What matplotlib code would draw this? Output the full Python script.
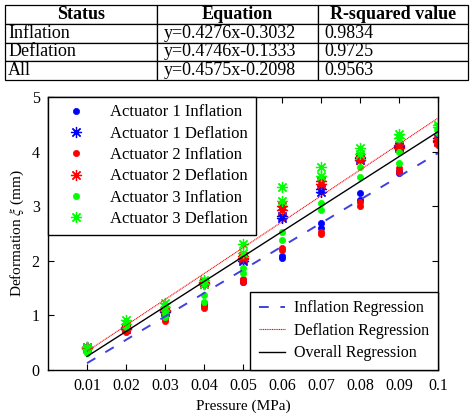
import numpy as np
import matplotlib
matplotlib.use("Agg")
import matplotlib.pyplot as plt

plt.rcParams['font.family'] = ['Liberation Serif', 'DejaVu Serif']
plt.rcParams['mathtext.fontset'] = 'stix'

# pressure steps (MPa)
pressure = [0.01, 0.02, 0.03, 0.04, 0.05, 0.06, 0.07, 0.08, 0.09, 0.1]

# deformation (mm), two trials per series
a1_inf = [[0.36, 0.72, 0.97, 1.19, 1.61, 2.05, 2.60, 3.11, 3.60, 4.17],
          [0.38, 0.74, 1.00, 1.22, 1.65, 2.08, 2.69, 3.24, 3.65, 4.22]]
a1_def = [[0.40, 0.75, 1.06, 1.58, 2.00, 2.78, 3.26, 3.85, 4.08, 4.20],
          [0.42, 0.77, 1.08, 1.60, 2.04, 2.82, 3.32, 3.88, 4.10, 4.24]]
a2_inf = [[0.35, 0.70, 0.89, 1.13, 1.62, 2.20, 2.50, 3.00, 3.63, 4.12],
          [0.38, 0.73, 0.93, 1.17, 1.66, 2.23, 2.53, 3.08, 3.70, 4.16]]
a2_def = [[0.40, 0.76, 1.08, 1.58, 2.05, 2.93, 3.40, 3.84, 4.06, 4.18],
          [0.43, 0.79, 1.10, 1.61, 2.08, 3.00, 3.46, 3.90, 4.12, 4.22]]
a3_inf = [[0.32, 0.78, 0.97, 1.25, 1.78, 2.38, 2.93, 3.53, 3.80, 4.34],
          [0.36, 0.82, 1.05, 1.37, 1.87, 2.53, 3.06, 3.72, 4.00, 4.38]]
a3_def = [[0.38, 0.85, 1.15, 1.58, 2.15, 3.10, 3.55, 3.95, 4.25, 4.45],
          [0.42, 0.92, 1.22, 1.65, 2.30, 3.35, 3.72, 4.06, 4.32, 4.48]]

# regression coefficients (x in units of 0.01 MPa)
fits = {"Inflation": (0.4276, -0.3032),
        "Deflation": (0.4746, -0.1333),
        "All": (0.4575, -0.2098)}
r_squared = {"Inflation": "0.9834", "Deflation": "0.9725", "All": "0.9563"}

fig = plt.figure(figsize=(4.74, 4.2), dpi=100)

# ---- table at the top ----
tax = fig.add_axes([5/474, 1 - 80/420, 463/474, 75/420])
tax.axis('off')
cells = [["Status", "Equation", "R-squared value"]]
for k in ["Inflation", "Deflation", "All"]:
    a, b = fits[k]
    cells.append([k, "y=%.4fx-%.4f" % (a, -b), r_squared[k]])
tbl = tax.table(cellText=cells, bbox=[0, 0, 1, 1], colWidths=[152, 161, 150], cellLoc='left')
tbl.auto_set_font_size(False)
for (r, c), cell in tbl.get_celld().items():
    cell.set_linewidth(0.9)
    cell.set_edgecolor('black')
    cell.set_fontsize(13)
    if r == 0:
        cell.get_text().set_fontweight('bold')
        cell.get_text().set_ha('center')
        cell._loc = 'center'
    else:
        cell.PAD = 0.02 if c == 0 else 0.04

# ---- main plot ----
ax = fig.add_axes([48/474, 50/420, 390/474, 273/420])
x = np.array(pressure)
star = (8, 2, 0)
series = [
    (a1_inf, 'o', 'blue', "Actuator 1 Inflation"),
    (a1_def, star, 'blue', "Actuator 1 Deflation"),
    (a2_inf, 'o', 'red', "Actuator 2 Inflation"),
    (a2_def, star, 'red', "Actuator 2 Deflation"),
    (a3_inf, 'o', 'lime', "Actuator 3 Inflation"),
    (a3_def, star, 'lime', "Actuator 3 Deflation"),
]
handles = []
for trials, mk, col, lab in series:
    ms = 4.5 if mk == 'o' else 8
    for i, t in enumerate(trials):
        h, = ax.plot(x, t, linestyle='none', marker=mk, color=col, markersize=ms,
                     markeredgewidth=0.9 if mk != 'o' else 0.5, label=lab if i == 0 else None)
        if i == 0:
            handles.append(h)

xx = np.array([0.01, 0.1])
a, b = fits["Inflation"]
l1, = ax.plot(xx, a * xx * 100 + b, color='#4040e0', linestyle=(0, (5, 6)), linewidth=1.4,
              label="Inflation Regression")
a, b = fits["Deflation"]
l2, = ax.plot(xx, a * xx * 100 + b, color='red', linestyle=(0, (1, 0.6)), linewidth=0.8,
              label="Deflation Regression")
a, b = fits["All"]
l3, = ax.plot(xx, a * xx * 100 + b, color='black', linewidth=1.0, label="Overall Regression")

ax.set_xlim(0, 0.1)
ax.set_ylim(0, 5)
ax.set_xticks(pressure)
ax.set_xticklabels(["0.01", "0.02", "0.03", "0.04", "0.05", "0.06", "0.07", "0.08", "0.09", "0.1"])
ax.set_yticks([0, 1, 2, 3, 4, 5])
ax.tick_params(direction='in', top=True, right=True, labelsize=11.5, length=4, pad=6)
for s in ax.spines.values():
    s.set_linewidth(1.0)
ax.set_xlabel("Pressure (MPa)", fontsize=11)
ax.set_ylabel("Deformation $\\xi$ (mm)", fontsize=11)

leg1 = ax.legend(handles=handles, loc='upper left', borderaxespad=0, fancybox=False,
                 edgecolor='black', framealpha=1, fontsize=12, labelspacing=0.32,
                 handlelength=2.4, handletextpad=0.9, borderpad=0.45)
leg1.get_frame().set_linewidth(1.0)
ax.add_artist(leg1)
leg2 = ax.legend(handles=[l1, l2, l3], loc='lower right', borderaxespad=0, fancybox=False,
                 edgecolor='black', framealpha=1, fontsize=11.5, labelspacing=0.4,
                 handlelength=1.6, handletextpad=0.6, borderpad=0.55)
leg2.get_frame().set_linewidth(1.0)

fig.savefig("out.png", dpi=100)
